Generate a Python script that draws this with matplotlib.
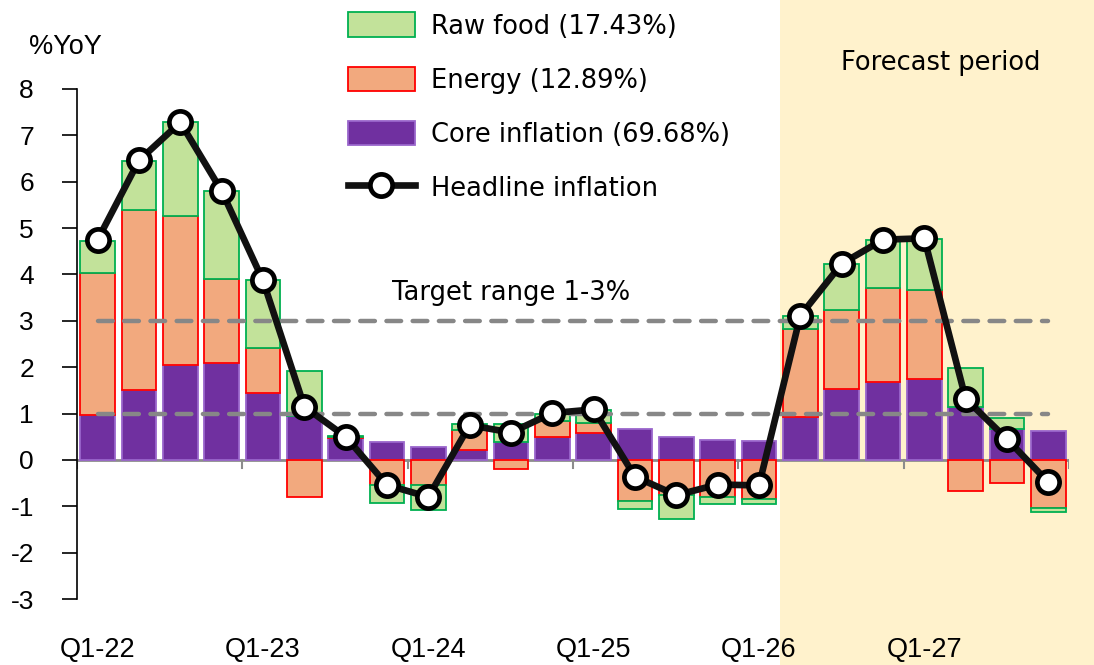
import numpy as np
import matplotlib
matplotlib.use("Agg")
import matplotlib.pyplot as plt
from matplotlib.transforms import blended_transform_factory
from matplotlib.patches import Rectangle

plt.rcParams["axes.unicode_minus"] = False

quarters = [f"Q{q}-{y}" for y in range(22, 28) for q in range(1, 5)]
core = [0.97, 1.51, 2.05, 2.10, 1.45, 0.95, 0.47, 0.38, 0.28, 0.22, 0.38, 0.49,
        0.57, 0.67, 0.50, 0.42, 0.40, 0.93, 1.53, 1.67, 1.75, 1.15, 0.66, 0.63]
energy = [3.07, 3.88, 3.22, 1.80, 0.96, -0.81, 0.02, -0.54, -0.55, 0.42, -0.20, 0.35,
          0.22, -0.88, -0.76, -0.79, -0.85, 1.89, 1.71, 2.03, 1.92, -0.67, -0.50, -1.04]
food = [0.69, 1.06, 2.01, 1.90, 1.46, 0.97, 0.03, -0.39, -0.53, 0.13, 0.40, 0.15,
        0.28, -0.18, -0.52, -0.17, -0.10, 0.28, 0.98, 1.04, 1.10, 0.83, 0.24, -0.09]
headline = [4.75, 6.46, 7.28, 5.80, 3.87, 1.15, 0.50, -0.54, -0.80, 0.75, 0.59, 1.01,
            1.09, -0.36, -0.76, -0.53, -0.55, 3.11, 4.23, 4.75, 4.78, 1.32, 0.45, -0.48]
year_labels = ["Q1-22", "Q1-23", "Q1-24", "Q1-25", "Q1-26", "Q1-27"]
forecast_start = 17

text_font = ["DejaVu Sans"]
num_font = ["Liberation Sans", "DejaVu Sans"]
narrow_font = ["Liberation Sans Narrow", "Liberation Sans", "DejaVu Sans"]

fig = plt.figure(figsize=(10.94, 6.65), dpi=100)
ax = fig.add_axes([0.0704, 0.0992, 0.9067, 0.767])
ax.patch.set_visible(False)

x = np.arange(len(quarters))
series = [
    (core, "#7030A0", "#9A66CC", "Core inflation (69.68%)"),
    (energy, "#F2A97E", "#FF0000", "Energy (12.89%)"),
    (food, "#C2E29A", "#00B050", "Raw food (17.43%)"),
]
pos_base = np.zeros(len(x))
neg_base = np.zeros(len(x))
handles = {}
for vals, fc, ec, lab in series:
    v = np.array(vals)
    bottom = np.where(v >= 0, pos_base, neg_base)
    b = ax.bar(x, v, bottom=bottom, width=0.84, color=fc, edgecolor=ec,
               linewidth=1.3, zorder=2, label=lab)
    handles[lab] = b
    pos_base = pos_base + np.where(v >= 0, v, 0)
    neg_base = neg_base + np.where(v < 0, v, 0)

# target band lines
for yv in (1, 3):
    ax.plot([x[0], x[-1]], [yv, yv], color="#878787", lw=3.2,
            linestyle=(0, (3.3, 2.6)), dash_capstyle="round", zorder=3)

line, = ax.plot(x, headline, color="#111111", lw=4.8, marker="o", ms=16,
                mfc="white", mec="black", mew=3.4, zorder=4,
                label="Headline inflation")

# forecast shading across the full figure height
trans = blended_transform_factory(ax.transData, fig.transFigure)
fig.add_artist(Rectangle((forecast_start - 0.5, 0), 30, 1, transform=trans,
                         facecolor="#FFF2CC", edgecolor="none", zorder=-10))

ax.set_xlim(-0.5, len(x) - 0.5)
ax.set_ylim(-3, 8)
ax.set_yticks(range(-3, 9))
ax.tick_params(axis="y", length=11, width=1.2, pad=20, labelsize=19)
for t in ax.get_yticklabels():
    t.set_fontfamily(num_font)

ax.set_xticks(x[::4])
ax.set_xticklabels(year_labels, fontfamily=narrow_font, fontsize=19.5)
ax.tick_params(axis="x", length=0, pad=27)

for s in ("top", "right", "bottom"):
    ax.spines[s].set_visible(False)
ax.spines["left"].set_linewidth(1.2)
ax.spines["left"].set_zorder(5)

ax.axhline(0, color="#8C8C8C", lw=2, zorder=1.5)
for b in np.arange(-0.5, len(x), 4):
    ax.plot([b, b], [0, -0.17], color="#8C8C8C", lw=1.5, zorder=1.5)

ax.text(-0.78, 8.9, "%YoY", fontsize=19.5, fontfamily=num_font,
        ha="center", va="center")
ax.text(10.0, 3.6, "Target range 1-3%", fontsize=18.5, fontfamily=text_font,
        ha="center", va="center")
ax.text(20.4, 8.55, "Forecast period", fontsize=18.5, fontfamily=text_font,
        ha="center", va="center")

order = ["Raw food (17.43%)", "Energy (12.89%)", "Core inflation (69.68%)"]
leg_handles = [handles[k] for k in order] + [line]
leg_labels = order + ["Headline inflation"]
fig.legend(leg_handles, leg_labels, loc="upper left",
           bbox_to_anchor=(0.297, 1.016), frameon=False,
           prop={"family": text_font, "size": 18.5},
           handlelength=2.6, handleheight=1.1, labelspacing=1.05,
           handletextpad=0.62)

fig.savefig("out.png", dpi=100)
